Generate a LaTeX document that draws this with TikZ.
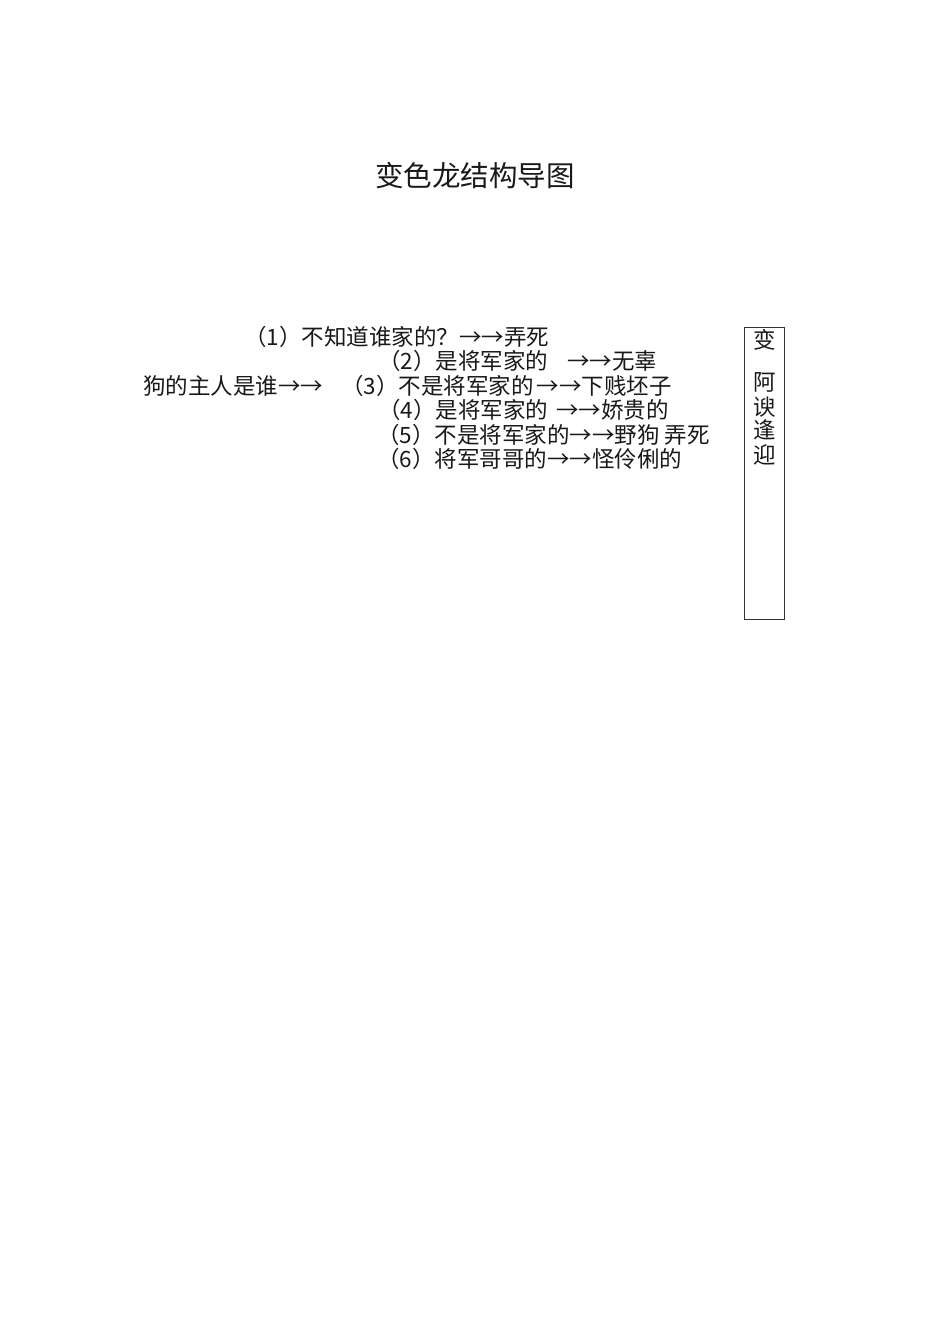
\documentclass[tikz,border=0pt]{standalone}
\usepackage{fontspec}
\setmainfont{Noto Sans CJK SC}
\newfontfamily\cjk{Noto Sans CJK SC}
\begin{document}
\begin{tikzpicture}[x=1pt,y=-1pt,
  txt/.style={anchor=base west,inner sep=0pt,font=\cjk\fontsize{22.5}{24}\selectfont,text=black!90},
  vch/.style={anchor=base,inner sep=0pt,font=\cjk\fontsize{22.5}{24}\selectfont,text=black!90},
  ttl/.style={anchor=base,inner sep=0pt,font=\cjk\fontsize{28.5}{30}\selectfont,text=black!90},
  boxst/.style={draw=black!80,line width=1pt}]
\useasboundingbox[fill=white] (0,0) rectangle (950,1344);
\node[ttl] (title) at (475,186) {变色龙结构导图};
\node[txt] (l1) at (244,345.5) {（1）不知道谁家的？→→弄死};
\node[txt] (l2) at (378,369.5) {（2）是将军家的\hspace{19pt}→→无辜};
\node[txt] (root) at (143,394.5) {狗的主人是谁→→};
\node[txt] (l3) at (341,394.5) {（3）不是将军家的\hspace{3pt}→→下贱坯子};
\node[txt] (l4) at (378,418.5) {（4）是将军家的\hspace{8pt}→→娇贵的};
\node[txt] (l5) at (377,443.5) {（5）不是将军家的→→野狗 弄死};
\node[txt] (l6) at (377,467.5) {（6）将军哥哥的→→怪伶俐的};
\draw[boxst] (744,327) rectangle (784,619);
\node[vch] (b1) at (765,348.5) {变};
\node[vch] (b2) at (765,390.5) {阿};
\node[vch] (b3) at (765,415.5) {谀};
\node[vch] (b4) at (765,438.5) {逢};
\node[vch] (b5) at (765,463.5) {迎};
\end{tikzpicture}
\end{document}
